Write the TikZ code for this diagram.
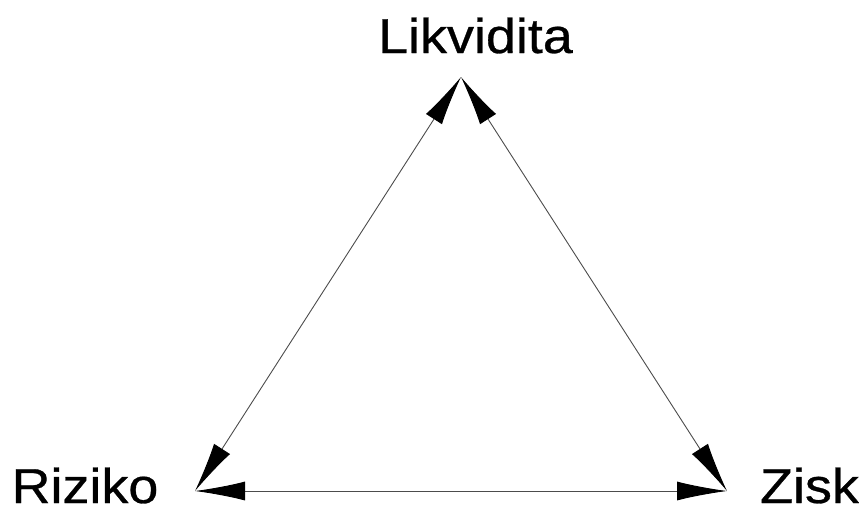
\documentclass[tikz,border=0pt]{standalone}
\usepackage{fontspec}
\setmainfont{Liberation Sans}
\newfontfamily\lblfont[FakeBold=0.6]{Liberation Sans}
\usetikzlibrary{arrows.meta}
\tikzset{
  lbl/.style={anchor=base, inner sep=0pt, font=\lblfont\fontsize{49}{55}\selectfont},
  link/.style={line width=0.9pt, draw=black!70, {Latex[length=50pt,width=19pt,black]}-{Latex[length=50pt,width=19pt,black]}}
}
\begin{document}
\begin{tikzpicture}[x=1pt,y=-1pt]
\useasboundingbox (0,0) rectangle (859,512);
\node[lbl] (lik) at (475.5,53) {\scalebox{1.1}[1]{Likvidita}};
\node[lbl] (riz) at (85,503) {\scalebox{1.1}[1]{Riziko}};
\node[lbl] (zis) at (809.5,503) {\scalebox{1.1}[1]{Zisk}};
\coordinate (t) at (461,77);
\coordinate (l) at (195,491);
\coordinate (r) at (727,491);
\draw[link] (l) -- (t);
\draw[link] (t) -- (r);
\draw[link] (l) -- (r);
\end{tikzpicture}
\end{document}
